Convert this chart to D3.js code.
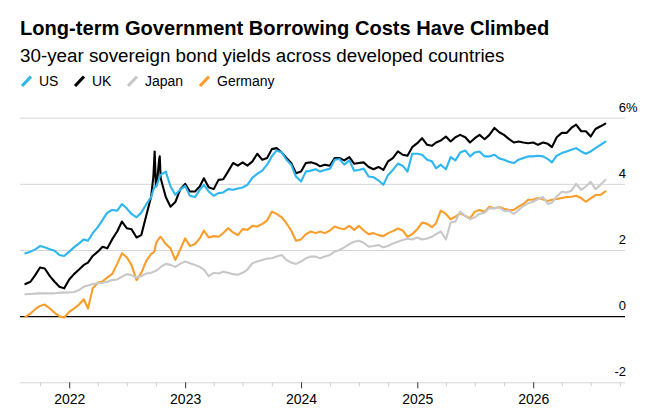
<!DOCTYPE html>
<html>
<head>
<meta charset="utf-8">
<script src="https://cdn.jsdelivr.net/npm/d3@7"></script>
<style>
  body { margin: 0; background: #fff; }
  svg { font-family: "Liberation Sans", Arial, Helvetica, sans-serif; display: block; }
</style>
</head>
<body>
<div id="chart"></div>
<script>
// half-monthly readings, plus a few extra days around the Sept/Oct 2022 gilt spike
const dates = [
  "2021-08-16","2021-09-01","2021-09-16","2021-10-01","2021-10-16","2021-11-01","2021-11-16","2021-12-01","2021-12-16",
  "2022-01-01","2022-01-16","2022-02-01","2022-02-16","2022-03-01","2022-03-16","2022-04-01","2022-04-16","2022-05-01",
  "2022-05-16","2022-06-01","2022-06-16","2022-07-01","2022-07-16","2022-08-01","2022-08-16","2022-09-01","2022-09-16",
  "2022-09-23","2022-09-27","2022-10-01","2022-10-04","2022-10-11","2022-10-13",
  "2022-10-16","2022-11-01","2022-11-16","2022-12-01","2022-12-16",
  "2023-01-01","2023-01-16","2023-02-01","2023-02-16","2023-03-01","2023-03-16","2023-04-01","2023-04-16","2023-05-01",
  "2023-05-16","2023-06-01","2023-06-16","2023-07-01","2023-07-16","2023-08-01","2023-08-16","2023-09-01","2023-09-16",
  "2023-10-01","2023-10-16","2023-11-01","2023-11-16","2023-12-01","2023-12-16",
  "2024-01-01","2024-01-16","2024-02-01","2024-02-16","2024-03-01","2024-03-16","2024-04-01","2024-04-16","2024-05-01",
  "2024-05-16","2024-06-01","2024-06-16","2024-07-01","2024-07-16","2024-08-01","2024-08-16","2024-09-01","2024-09-16",
  "2024-10-01","2024-10-16","2024-11-01","2024-11-16","2024-12-01","2024-12-16",
  "2025-01-01","2025-01-16","2025-02-01","2025-02-16","2025-03-01","2025-03-16","2025-04-01","2025-04-16","2025-05-01",
  "2025-05-16","2025-06-01","2025-06-16","2025-07-01","2025-07-16","2025-08-01","2025-08-16","2025-09-01","2025-09-16",
  "2025-10-01","2025-10-16","2025-11-01","2025-11-16","2025-12-01","2025-12-16",
  "2026-01-01","2026-01-16","2026-02-01","2026-02-16","2026-03-01","2026-03-16","2026-04-01","2026-04-16","2026-05-01",
  "2026-05-16","2026-06-01","2026-06-16","2026-07-01","2026-07-16","2026-08-01","2026-08-16"
];

const us = [
  1.90,1.95,2.02,2.12,2.08,2.02,1.98,1.85,1.82,1.95,2.08,2.20,2.32,2.28,2.51,2.69,2.91,3.13,3.21,3.19,3.39,3.26,3.09,2.99,3.13,3.39,3.60,
  3.82,3.92,3.92,3.97,4.17,4.22,
  4.27,4.37,3.92,3.67,
  3.82,3.94,3.64,3.60,3.82,3.97,3.77,3.64,3.72,3.74,3.84,3.82,3.86,3.89,3.97,4.19,4.30,4.40,4.58,4.83,5.01,4.95,4.73,4.58,4.22,4.07,4.37,4.40,4.44,4.37,4.42,4.46,
  4.73,4.75,4.58,4.71,4.40,4.42,4.46,4.22,4.20,4.10,3.97,4.27,4.42,4.61,4.55,4.37,4.91,4.91,4.88,4.73,4.68,4.47,4.58,4.44,4.81,4.71,4.95,5.01,4.83,4.95,4.98,4.83,
  4.83,4.88,4.77,4.73,4.67,4.63,4.73,4.78,4.83,4.83,4.85,4.83,4.75,4.65,4.85,4.93,4.98,5.03,5.08,4.98,4.91,4.98,5.08,5.18,5.28
];

const uk = [
  0.97,1.04,1.24,1.47,1.44,1.21,1.04,0.89,0.84,1.11,1.27,1.41,1.55,1.62,1.82,1.95,2.10,2.05,2.32,2.56,2.86,2.66,2.63,2.38,2.45,3.06,3.62,
  4.22,4.98,3.92,3.97,4.73,4.83,
  4.17,3.60,3.31,3.45,
  3.82,4.00,3.77,3.77,3.92,4.17,3.90,3.84,4.12,4.14,4.37,4.63,4.55,4.65,4.55,4.68,4.91,4.73,4.78,5.05,5.08,4.95,4.78,4.63,4.32,4.37,4.63,4.65,4.61,4.53,4.58,4.55,
  4.78,4.78,4.71,4.81,4.61,4.63,4.65,4.51,4.44,4.51,4.42,4.68,4.78,4.98,4.88,4.85,5.11,5.23,5.38,5.18,5.15,5.25,5.31,5.43,5.28,5.41,5.48,5.41,5.25,5.38,5.48,5.35,
  5.48,5.69,5.56,5.48,5.36,5.25,5.28,5.25,5.23,5.25,5.18,5.25,5.21,5.11,5.41,5.54,5.54,5.69,5.79,5.59,5.59,5.43,5.66,5.74,5.82
];

const japan = [
  0.66,0.67,0.68,0.69,0.69,0.69,0.69,0.71,0.71,0.72,0.73,0.79,0.89,0.93,0.97,0.99,1.01,1.04,1.09,1.11,1.19,1.27,1.24,1.17,1.21,1.29,1.31,
  1.34,1.36,1.37,1.39,1.44,1.46,
  1.49,1.58,1.55,1.49,
  1.58,1.65,1.60,1.55,1.49,1.41,1.21,1.31,1.29,1.34,1.31,1.27,1.25,1.31,1.41,1.60,1.65,1.70,1.74,1.75,1.80,1.85,1.70,1.62,1.58,1.65,1.75,1.80,1.80,1.75,1.80,1.85,
  1.95,2.00,2.08,2.18,2.25,2.28,2.22,2.10,2.12,2.15,2.08,2.12,2.20,2.25,2.30,2.34,2.32,2.38,2.32,2.35,2.40,2.48,2.56,2.32,2.83,2.86,3.16,3.03,2.93,2.99,3.09,3.13,
  3.26,3.26,3.29,3.18,3.19,3.09,3.21,3.33,3.41,3.46,3.54,3.60,3.39,3.43,3.62,3.76,3.74,3.79,4.00,3.82,3.92,4.06,3.84,3.97,4.12
];

const germany = [
  -0.02,0.08,0.21,0.31,0.35,0.23,0.10,0.00,-0.04,0.13,0.23,0.35,0.51,0.23,0.84,1.01,1.05,1.17,1.27,1.58,1.90,1.78,1.55,1.09,1.31,1.68,1.88,
  1.92,1.98,2.20,2.25,2.35,2.38,
  2.40,2.18,2.05,1.70,
  2.00,2.35,2.12,2.18,2.35,2.59,2.38,2.42,2.40,2.51,2.66,2.53,2.45,2.63,2.61,2.73,2.71,2.79,2.89,3.16,3.09,2.99,2.81,2.59,2.28,2.32,2.48,2.56,2.51,2.56,2.51,2.59,
  2.71,2.66,2.63,2.73,2.61,2.73,2.59,2.48,2.51,2.45,2.42,2.51,2.57,2.65,2.59,2.40,2.48,2.63,2.83,2.79,2.69,2.81,3.19,3.09,2.93,3.01,3.11,3.03,2.96,3.16,3.21,3.16,
  3.31,3.26,3.30,3.25,3.21,3.21,3.31,3.39,3.52,3.52,3.57,3.53,3.48,3.52,3.54,3.57,3.60,3.61,3.64,3.57,3.46,3.56,3.66,3.67,3.77
];

const seriesNames = ["US", "UK", "Japan", "Germany"];
const seriesColors = ["#2db6f0", "#000000", "#c8c8c8", "#fb9d2a"];
const yTicks = [-2, 0, 2, 4, 6];
const yearTicks = ["2022-01-01", "2023-01-01", "2024-01-01", "2025-01-01", "2026-01-01"];

const W = 658, H = 416;
const parse = d3.timeParse("%Y-%m-%d");

const svg = d3.select("#chart").append("svg")
  .attr("width", W)
  .attr("height", H);

const x = d3.scaleTime()
  .domain([parse("2021-07-30"), parse("2026-10-17")])
  .range([20, 625]);

const y = d3.scaleLinear()
  .domain([-2, 6])
  .range([382.3, 117.7]);

// header
svg.append("text")
  .attr("x", 20).attr("y", 35)
  .attr("font-size", 20.1).attr("font-weight", "bold")
  .attr("fill", "#000")
  .text("Long-term Government Borrowing Costs Have Climbed");

svg.append("text")
  .attr("x", 20).attr("y", 61.5)
  .attr("font-size", 18.8)
  .attr("fill", "#000")
  .text("30-year sovereign bond yields across developed countries");

// legend
const legendX = [21, 74, 127, 199];
const legend = svg.append("g").selectAll("g")
  .data(seriesNames)
  .enter().append("g")
  .attr("transform", (d, i) => "translate(" + legendX[i] + ",0)");
legend.append("line")
  .attr("x1", 1).attr("y1", 86)
  .attr("x2", 10).attr("y2", 76.5)
  .attr("stroke", (d, i) => seriesColors[i])
  .attr("stroke-width", 3.2);
legend.append("text")
  .attr("x", 18).attr("y", 85.5)
  .attr("font-size", 14)
  .attr("fill", "#000")
  .text(d => d);

// y grid + labels
const yAxis = svg.append("g")
  .attr("transform", "translate(625,0)")
  .call(d3.axisLeft(y).tickValues(yTicks).tickSize(605).tickFormat(d => d));
yAxis.select(".domain").remove();
yAxis.selectAll(".tick line")
  .attr("stroke", d => d === 0 ? "#000" : "#d6d6d6")
  .attr("stroke-width", d => d === 0 ? 1.3 : 1);
yAxis.selectAll(".tick text")
  .attr("x", 1)
  .attr("dy", -6.5)
  .attr("text-anchor", "end")
  .attr("font-size", 13)
  .attr("font-family", null)
  .attr("fill", "#000");
yAxis.selectAll(".tick").filter(d => d === 6)
  .append("text")
  .attr("x", 1).attr("dy", -6.5)
  .attr("text-anchor", "start")
  .attr("font-size", 13)
  .attr("fill", "#000")
  .text("%");

// x axis: quarterly minor ticks, yearly major ticks
const minorTicks = d3.timeMonth.every(3).range(parse("2021-10-01"), parse("2026-10-02"))
  .filter(d => d.getMonth() !== 0);
const xMinor = svg.append("g")
  .attr("transform", "translate(0,382.3)")
  .call(d3.axisBottom(x).tickValues(minorTicks).tickSize(4).tickFormat(""));
xMinor.select(".domain").remove();
xMinor.selectAll(".tick line").attr("stroke", "#d0d0d0");

const xAxis = svg.append("g")
  .attr("transform", "translate(0,382.3)")
  .call(d3.axisBottom(x).tickValues(yearTicks.map(parse)).tickSize(6).tickPadding(6)
    .tickFormat(d3.timeFormat("%Y")));
xAxis.select(".domain").remove();
xAxis.selectAll(".tick line").attr("stroke", "#333");
xAxis.selectAll(".tick text")
  .attr("font-size", 14)
  .attr("font-family", null)
  .attr("fill", "#000");

// lines
const allSeries = [us, uk, japan, germany];
const line = d3.line()
  .x((d, i) => x(parse(dates[i])))
  .y(d => y(d));

const drawOrder = [3, 2, 1, 0];
svg.append("g").selectAll("path")
  .data(drawOrder)
  .enter().append("path")
  .attr("d", k => line(allSeries[k]))
  .attr("fill", "none")
  .attr("stroke", k => seriesColors[k])
  .attr("stroke-width", 2.1)
  .attr("stroke-linejoin", "round")
  .attr("stroke-linecap", "round");
</script>
</body>
</html>
